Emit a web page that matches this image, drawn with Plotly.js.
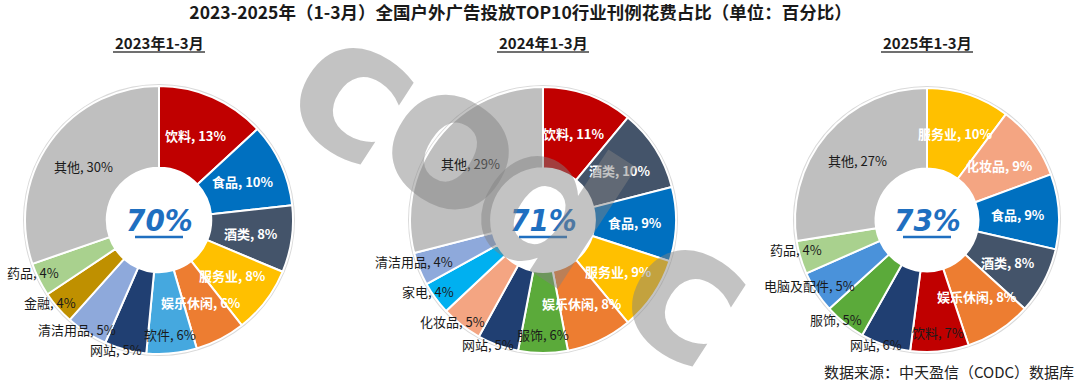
<!DOCTYPE html>
<html><head><meta charset="utf-8">
<script src="https://cdn.plot.ly/plotly-3.0.1.min.js"></script>
<style>html,body{margin:0;padding:0;background:#fff}#chart{width:1080px;height:383px}</style>
</head><body><div id="chart"></div>
<script>
// ---------- data ----------
const chartTitle = '2023-2025年（1-3月）全国户外广告投放TOP10行业刊例花费占比（单位：百分比）';
const periods = ['2023年1-3月', '2024年1-3月', '2025年1-3月'];
const top10Share = ['70%', '71%', '73%'];

const cats2023 = ['饮料','食品','酒类','服务业','娱乐休闲','软件','网站','清洁用品','金融','药品','其他'];
const vals2023 = [13, 10, 8, 8, 6, 6, 5, 5, 4, 4, 30];

const cats2024 = ['饮料','酒类','食品','服务业','娱乐休闲','服饰','网站','化妆品','家电','清洁用品','其他'];
const vals2024 = [11, 10, 9, 9, 8, 6, 5, 5, 4, 4, 29];

const cats2025 = ['服务业','化妆品','食品','酒类','娱乐休闲','饮料','网站','服饰','电脑及配件','药品','其他'];
const vals2025 = [10, 9, 9, 8, 8, 7, 6, 5, 5, 4, 27];

const sourceNote = '数据来源：中天盈信（CODC）数据库';
const watermarkLetters = ['c', 'o', 'd', 'c'];

// ---------- styles ----------
const catColors = {
  '饮料':'#C00000','食品':'#0070C0','酒类':'#44546A','服务业':'#FFC000','娱乐休闲':'#ED7D31',
  '软件':'#45A8DF','网站':'#203F72','清洁用品':'#8EA9DB','金融':'#BF9000','药品':'#A9D18E',
  '其他':'#BFBFBF','服饰':'#5BAA3A','化妆品':'#F4A582','家电':'#00B0F0','电脑及配件':'#4A92DA'
};
// label mode per slice: w = white inside, k = dark inside, m = dark near edge, o = dark outside
const labelModes = ['w','w','w','w','w','m','o','o','o','o','k'];

const W = 1080, H = 383;
const pies = [
  {cats: cats2023, vals: vals2023, cx: 159, cy: 220, r: 134},
  {cats: cats2024, vals: vals2024, cx: 543, cy: 220, r: 133},
  {cats: cats2025, vals: vals2025, cx: 927, cy: 220, r: 132}
];
const fontCJK = '"Noto Sans CJK SC", "Microsoft YaHei", sans-serif';

const px2x = p => p / W;
const px2y = p => 1 - p / H;

const traces = [];
const annotations = [];
const shapes = [];

pies.forEach((p, i) => {
  const dom = {x: [px2x(p.cx - p.r), px2x(p.cx + p.r)], y: [px2y(p.cy + p.r), px2y(p.cy - p.r)]};
  const domShadow = {x: [px2x(p.cx - p.r - 2), px2x(p.cx + p.r + 2)], y: [px2y(p.cy + p.r + 2), px2y(p.cy - p.r - 2)]};
  traces.push({
    type: 'pie', values: [1], labels: ['bg'], domain: domShadow, hole: 0.9,
    marker: {colors: ['#DADADA']}, textinfo: 'none', hoverinfo: 'skip', sort: false, showlegend: false
  });
  traces.push({
    type: 'pie', values: p.vals, labels: p.cats, domain: dom, hole: 0.39,
    sort: false, direction: 'clockwise', rotation: 0,
    marker: {colors: p.cats.map(c => catColors[c]), line: {color: '#FFFFFF', width: 2}},
    textinfo: 'none', hoverinfo: 'label+value', showlegend: false
  });

  // slice labels, positioned from the data (mid-angle of each slice)
  const total = p.vals.reduce((a, b) => a + b, 0);
  let cum = 0;
  p.vals.forEach((v, k) => {
    let mid = (cum + v / 2) / total * 2 * Math.PI;
    cum += v;
    const mode = labelModes[k];
    let rf = 0.69;
    if (mode === 'm') rf = 0.86;
    if (mode === 'o') { rf = 1.02; mid += 4 * Math.PI / 180; }
    const x = p.cx + rf * p.r * Math.sin(mid);
    const y = p.cy - rf * p.r * Math.cos(mid);
    const white = mode === 'w';
    annotations.push({
      x: px2x(x), y: px2y(y), xref: 'paper', yref: 'paper', showarrow: false,
      xanchor: 'center', yanchor: 'middle',
      text: white ? '<b>' + p.cats[k] + ', ' + v + '%</b>' : p.cats[k] + ', ' + v + '%',
      font: {family: fontCJK, size: 13, color: white ? '#FFFFFF' : '#1A1A1A'}
    });
  });

  // centre figure
  annotations.push({
    x: px2x(p.cx), y: px2y(p.cy), xref: 'paper', yref: 'paper', showarrow: false,
    xanchor: 'center', yanchor: 'middle',
    text: '<b><i>' + top10Share[i] + '</i></b>',
    font: {family: '"Liberation Sans Narrow", "DejaVu Sans Condensed", Arial, sans-serif', size: 31, color: '#1F6FC0'}
  });
  shapes.push({type: 'line', xref: 'paper', yref: 'paper',
    x0: px2x(p.cx - 24), x1: px2x(p.cx + 24), y0: px2y(p.cy + 17), y1: px2y(p.cy + 17),
    line: {color: '#1F6FC0', width: 2.5}});

  // period subtitle
  annotations.push({
    x: px2x(p.cx), y: px2y(42), xref: 'paper', yref: 'paper', showarrow: false,
    xanchor: 'center', yanchor: 'middle',
    text: '<b>' + periods[i] + '</b>',
    font: {family: fontCJK, size: 15, color: '#1A1A1A'}
  });
  shapes.push({type: 'line', xref: 'paper', yref: 'paper',
    x0: px2x(p.cx - 46), x1: px2x(p.cx + 46), y0: px2y(52), y1: px2y(52),
    line: {color: '#404040', width: 1.5}});
});

// source note
annotations.push({
  x: px2x(1076), y: px2y(371), xref: 'paper', yref: 'paper', showarrow: false,
  xanchor: 'right', yanchor: 'middle', text: sourceNote,
  font: {family: fontCJK, size: 15, color: '#222222'}
});

// watermark (one letter at a time, along a diagonal)
const wmPos = [[358, 88], [458, 140], [550, 205], [690, 290]];
watermarkLetters.forEach((ch, k) => {
  annotations.push({
    x: px2x(wmPos[k][0]), y: px2y(wmPos[k][1]), xref: 'paper', yref: 'paper', showarrow: false,
    xanchor: 'center', yanchor: 'middle', text: '<b>' + ch + '</b>', textangle: 33,
    font: {family: '"DejaVu Sans", sans-serif', size: 190, color: 'rgba(130,130,130,0.48)'}
  });
});

const layout = {
  width: W, height: H,
  margin: {l: 0, r: 0, t: 0, b: 0},
  paper_bgcolor: '#FFFFFF', plot_bgcolor: '#FFFFFF',
  showlegend: false,
  title: {text: '<b>' + chartTitle + '</b>', x: 0.482, xanchor: 'center', y: 1 - 13 / H, yanchor: 'middle',
          font: {family: fontCJK, size: 17.5, color: '#1A1A1A'}},
  annotations: annotations,
  shapes: shapes
};

Plotly.newPlot('chart', traces, layout, {displayModeBar: false, staticPlot: true});
</script></body></html>
